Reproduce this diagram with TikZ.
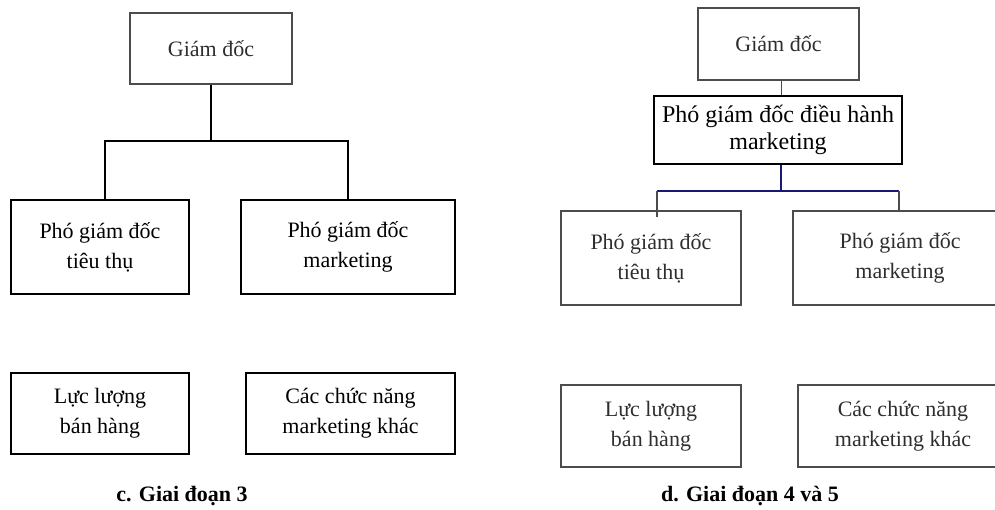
\documentclass[tikz,border=0pt]{standalone}
\usepackage{fontspec}
\setmainfont{Liberation Serif}
\definecolor{xanhdam}{RGB}{25,25,115}

\begin{document}
\begin{tikzpicture}[x=1pt,y=-1pt,
   hop/.style={draw,line width=1.6,align=center,inner sep=0,font=\fontsize{22}{30}\selectfont},
   hopmo/.style={hop,draw=black!70,text=black!82,line width=1.6},
   noi/.style={line width=1.6},
   noimo/.style={line width=1.8,draw=black!70},
   tieude/.style={font=\bfseries\fontsize{22}{26}\selectfont}]
   \path[use as bounding box] (0,0) rectangle (995,510);
   \clip (0,0) rectangle (995,510);

   % c. Giai doan 3
   \node[hopmo,minimum width=162,minimum height=71] (gd) at (211,48.5) {Giám đốc};
   \node[hop,minimum width=178,minimum height=94] (pgt) at (100,247) {Phó giám đốc\\tiêu thụ};
   \node[hop,minimum width=214,minimum height=94] (pgm) at (348,247) {Phó giám đốc\\marketing};
   \node[hop,minimum width=178,minimum height=81] (llbh) at (100,413.5) {Lực lượng\\bán hàng};
   \node[hop,minimum width=209,minimum height=81] (cnk) at (350.5,413.5) {Các chức năng\\marketing khác};
   \coordinate (nga3) at (211,141);
   \draw[noi] (gd.south) -- (nga3);
   \draw[noi] ([xshift=5pt]pgt.north) |- (nga3) -| (pgm.north);
   \node[tieude] (tdc) at (182,496) {c. Giai đoạn 3};

   % d. Giai doan 4 va 5
   \node[hopmo,minimum width=161,minimum height=72] (gd2) at (778.5,44) {Giám đốc};
   \node[hop,line width=2,minimum width=248,minimum height=68,font=\fontsize{24}{27}\selectfont] (dh) at (778,130) {Phó giám đốc điều hành\\marketing};
   \node[hopmo,minimum width=180,minimum height=94] (pgt2) at (651,258) {Phó giám đốc\\tiêu thụ};
   \node[hopmo,minimum width=214,minimum height=94] (pgm2) at (900,258) {Phó giám đốc\\marketing};
   \node[hopmo,minimum width=180,minimum height=82] (llbh2) at (651,426) {Lực lượng\\bán hàng};
   \node[hopmo,minimum width=210,minimum height=82] (cnk2) at (903,426) {Các chức năng\\marketing khác};
   \draw[noimo] ([xshift=3pt]gd2.south) -- ([xshift=3pt]gd2.south |- dh.north);
   \coordinate (nga3b) at (781,191);
   \coordinate (vl) at ([xshift=6pt]pgt2.north);
   \coordinate (vr) at ([xshift=-1pt]pgm2.north);
   \draw[line width=1.4,xanhdam] ([xshift=3pt]dh.south) -- (nga3b);
   \draw[line width=1.4,xanhdam] (nga3b -| vl) -- (nga3b -| vr);
   \draw[noimo] ([yshift=-7pt]vl) -- (vl |- nga3b);
   \draw[noimo] (vr) -- (vr |- nga3b);
   \node[tieude] (tdd) at (750,496) {d. Giai đoạn 4 và 5};
\end{tikzpicture}
\end{document}
